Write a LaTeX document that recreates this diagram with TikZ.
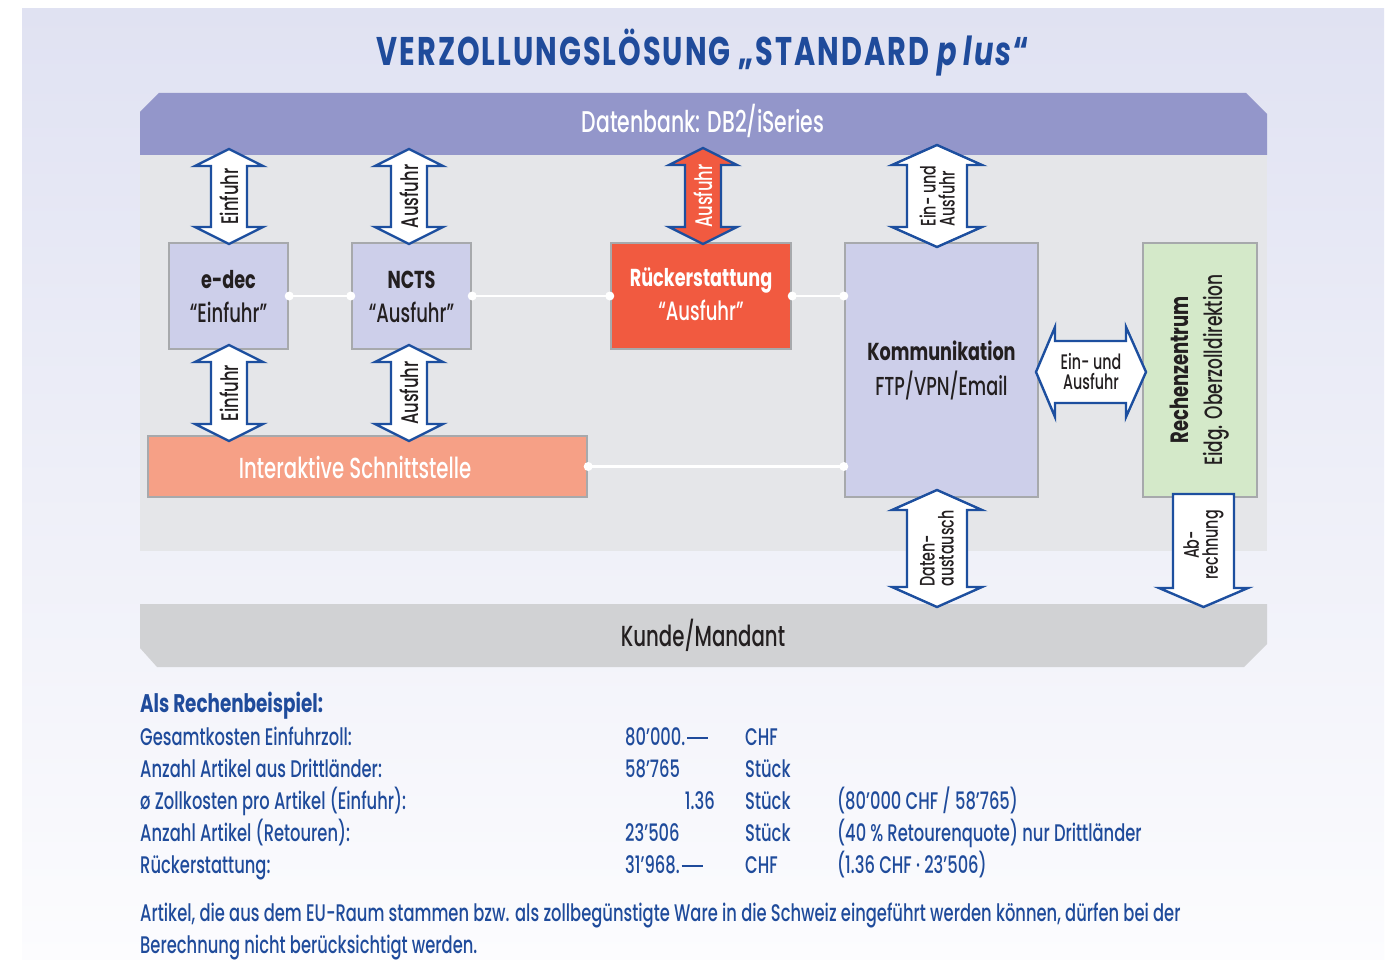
\documentclass[tikz,border=0pt]{standalone}
\usepackage{fontspec}
\setmainfont{Poppins}[FakeStretch=0.68, UprightFont=* Medium, ItalicFont=* Medium Italic,
  BoldFont=* Bold, BoldItalicFont=* Bold Italic,
  BoldFeatures={FakeStretch=0.72}, BoldItalicFeatures={FakeStretch=0.72}]
\definecolor{bgtop}{HTML}{E0E2F2}
\definecolor{bgbot}{HTML}{FCFCFE}
\definecolor{dbcol}{HTML}{9396CA}
\definecolor{panel}{HTML}{E5E6E9}
\definecolor{kunde}{HTML}{D1D2D4}
\definecolor{lav}{HTML}{CDCFEA}
\definecolor{boxborder}{HTML}{A7A9AC}
\definecolor{redbox}{HTML}{F15A40}
\definecolor{greenbox}{HTML}{D4E9C9}
\definecolor{salmon}{HTML}{F6A086}
\definecolor{arrblue}{HTML}{1D4F9F}
\definecolor{txtblue}{HTML}{1F4B9B}
\definecolor{dark}{HTML}{231F20}
\newcommand{\vdblarrow}[8]{%
  \draw[#1] (#3,#4) -- (#3+#7,#4+#8) -- (#3+#6,#4+#8) -- (#3+#6,#5-#8) -- (#3+#7,#5-#8) -- (#3,#5)
    -- (#3-#7,#5-#8) -- (#3-#6,#5-#8) -- (#3-#6,#4+#8) -- (#3-#7,#4+#8) -- cycle;
  \coordinate (#2) at (#3,{(#4+#5)/2});}
\newcommand{\longdash}{\kern2pt\rule[6.5pt]{21pt}{1.8pt}}
\tikzset{
  blockarrow/.style={fill=white, draw=arrblue, line width=2.4pt, line join=miter},
  redarrow/.style={fill=redbox, draw=arrblue, line width=2.4pt, line join=miter},
  box/.style={draw=boxborder, line width=2.4pt, inner sep=0},
  conn/.style={draw=white, line width=2.6pt},
  arrlbl/.style={font=\fontsize{24}{24}\selectfont, text=dark, rotate=90, inner sep=0, align=left},
  arrlbltwo/.style={arrlbl, font=\fontsize{21}{19}\selectfont},
  boldlbl/.style={font=\bfseries\fontsize{24.5}{24}\selectfont, text=dark, anchor=base, inner sep=0},
  lbl/.style={font=\fontsize{26.5}{24}\selectfont, text=dark, anchor=base, inner sep=0},
  body/.style={font=\fontsize{24}{24}\selectfont, text=txtblue, anchor=base west, inner sep=0},
  bodyr/.style={body, anchor=base east},
}
\begin{document}
\begin{tikzpicture}[x=1pt,y=-1pt]
\useasboundingbox (0,0) rectangle (1395,960);
\fill[white] (0,0) rectangle (1395,960);
\shade[top color=bgtop, bottom color=bgbot] (22,9) rectangle (1384,960);
% title
\node[font=\bfseries\fontsize{40}{40}\selectfont\addfontfeatures{LetterSpace=5}, text=txtblue, anchor=base, inner sep=0] (title) at (703,66) {VERZOLLUNGSLÖSUNG „STANDARD \textit{p\,lus}“};
% bands
\fill[dbcol] (140,155) -- (140,112) -- (159,93) -- (1246,93) -- (1267,114) -- (1267,155) -- cycle;
\node[font=\fontsize{30}{30}\selectfont, text=white, anchor=base, inner sep=0] (db) at (703,133) {Datenbank: DB2/iSeries};
\fill[panel] (140,155) rectangle (1267,551);
\fill[kunde] (140,604) -- (1267,604) -- (1267,644) -- (1244,667) -- (157,667) -- (140,648) -- cycle;
\node[font=\fontsize{29}{29}\selectfont, text=dark, anchor=base, inner sep=0] (kd) at (703,646) {Kunde/Mandant};
% boxes
\node[box, fill=lav, minimum width=119pt, minimum height=106pt] (edec) at (228.5,296) {};
\node[box, fill=lav, minimum width=119pt, minimum height=106pt] (ncts) at (411.5,296) {};
\node[box, fill=redbox, minimum width=180pt, minimum height=106pt] (rueck) at (701,296) {};
\node[box, fill=lav, minimum width=193pt, minimum height=254pt] (komm) at (941.5,370) {};
\node[box, fill=greenbox, minimum width=114pt, minimum height=254pt] (rechen) at (1200,370) {};
\node[box, fill=salmon, minimum width=439pt, minimum height=61pt] (inter) at (367.5,466.5) {};
% box texts
\node[boldlbl] (edect1) at (228.5,288) {e-dec};
\node[lbl] (edect2) at (228.5,322) {“Einfuhr”};
\node[boldlbl] (nctst1) at (411.5,288) {NCTS};
\node[lbl] (nctst2) at (411.5,322) {“Ausfuhr”};
\node[boldlbl, text=white] (rueckt1) at (701,286) {Rückerstattung};
\node[lbl, text=white] (rueckt2) at (701,320) {“Ausfuhr”};
\node[boldlbl] (kommt1) at (941.5,360) {Kommunikation};
\node[lbl, font=\fontsize{26}{24}\selectfont] (kommt2) at (941.5,395) {FTP/VPN/Email};
\node[font=\fontsize{25}{34}\selectfont, text=dark, rotate=90, align=center, inner sep=0] (recht) at (1200,370) {\textbf{Rechenzentrum}\\Eidg. Oberzolldirektion};
\node[font=\fontsize{29}{29}\selectfont, text=white, anchor=base, inner sep=0] (intert) at (355,478) {Interaktive Schnittstelle};
% connectors
\draw[conn] (edec.east) -- (ncts.west);
\draw[conn] (ncts.east) -- (rueck.west);
\draw[conn] (rueck.east) -- (rueck.east -| komm.west);
\draw[conn] (inter.east) -- (inter.east -| komm.west);
\foreach \p in {edec.east, ncts.west, ncts.east, rueck.west, rueck.east, inter.east}
  \fill[white] (\p) circle (4.5);
\fill[white] (rueck.east -| komm.west) circle (4.5);
\fill[white] (inter.east -| komm.west) circle (4.5);
% block arrows
\vdblarrow{blockarrow}{a1}{229}{149}{244}{18}{34}{17}
\vdblarrow{blockarrow}{a2}{409}{149}{244}{18}{34}{17}
\vdblarrow{redarrow}{a3}{703}{148}{244}{18}{34}{17}
\vdblarrow{blockarrow}{a4}{937}{145}{247}{30}{45}{20}
\vdblarrow{blockarrow}{a5}{229}{345}{441}{18}{34}{17}
\vdblarrow{blockarrow}{a6}{409}{345}{441}{18}{34}{17}
\vdblarrow{blockarrow}{a7}{937}{490}{607}{30}{45}{20}
\draw[blockarrow] (1036,372) -- (1055,327) -- (1055,341) -- (1126,341) -- (1126,327) -- (1146,372)
  -- (1126,417) -- (1126,403) -- (1055,403) -- (1055,417) -- cycle;
\coordinate (a8) at (1091,372);
\draw[blockarrow] (1173,494) -- (1234,494) -- (1234,588) -- (1248,588) -- (1203.5,607) -- (1159,588) -- (1173,588) -- cycle;
\coordinate (a9) at (1203.5,545);
% arrow labels
\node[arrlbl] (l1) at (a1) {Einfuhr};
\node[arrlbl] (l2) at (a2) {Ausfuhr};
\node[arrlbl, text=white] (l3) at (a3) {Ausfuhr};
\node[arrlbltwo] (l4) at (a4) {Ein- und\\Ausfuhr};
\node[arrlbl] (l5) at (a5) {Einfuhr};
\node[arrlbl] (l6) at (a6) {Ausfuhr};
\node[arrlbltwo] (l7) at (a7) {Daten-\\austausch};
\node[font=\fontsize{21}{20}\selectfont, text=dark, inner sep=0, align=center] (l8) at (a8) {Ein- und\\Ausfuhr};
\node[arrlbltwo, align=center] (l9) at (a9) {Ab-\\rechnung};
% calculation
\node[body, font=\bfseries\fontsize{25.5}{24}\selectfont] (h) at (140,712) {Als Rechenbeispiel:};
\node[body] (r1a) at (140,745) {Gesamtkosten Einfuhrzoll:};
\node[body] (r1b) at (625,745) {80’000.\longdash};
\node[body] (r1c) at (745,745) {CHF};
\node[body] (r2a) at (140,777) {Anzahl Artikel aus Drittländer:};
\node[body] (r2b) at (625,777) {58’765};
\node[body] (r2c) at (745,777) {Stück};
\node[body] (r3a) at (140,809) {ø Zollkosten pro Artikel (Einfuhr):};
\node[bodyr] (r3b) at (715,809) {1.36};
\node[body] (r3c) at (745,809) {Stück};
\node[body] (r3d) at (837,809) {(80’000 CHF / 58’765)};
\node[body] (r4a) at (140,841) {Anzahl Artikel (Retouren):};
\node[body] (r4b) at (625,841) {23’506};
\node[body] (r4c) at (745,841) {Stück};
\node[body] (r4d) at (837,841) {(40\,\% Retourenquote) nur Drittländer};
\node[body] (r5a) at (140,873) {Rückerstattung:};
\node[body] (r5b) at (625,873) {31’968.\longdash};
\node[body] (r5c) at (745,873) {CHF};
\node[body] (r5d) at (837,873) {(1.36 CHF · 23’506)};
\node[body] (n1) at (140,921) {Artikel, die aus dem EU-Raum stammen bzw. als zollbegünstigte Ware in die Schweiz eingeführt werden können, dürfen bei der};
\node[body] (n2) at (140,953) {Berechnung nicht berücksichtigt werden.};
\end{tikzpicture}
\end{document}
